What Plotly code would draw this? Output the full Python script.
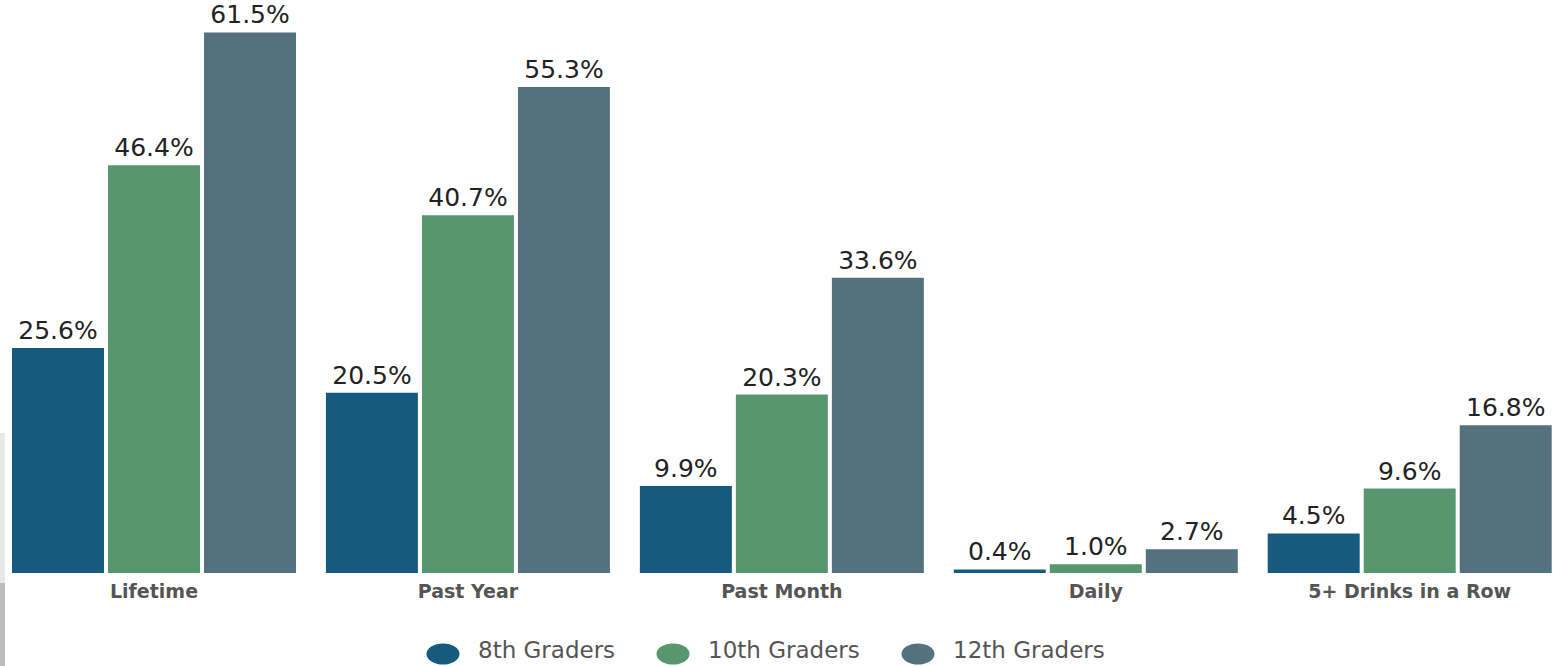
import plotly.graph_objects as go

categories = ["Lifetime", "Past Year", "Past Month", "Daily", "5+ Drinks in a Row"]
series_names = ["8th Graders", "10th Graders", "12th Graders"]
grade8 = [25.6, 20.5, 9.9, 0.4, 4.5]
grade10 = [46.4, 40.7, 20.3, 1.0, 9.6]
grade12 = [61.5, 55.3, 33.6, 2.7, 16.8]
colors = ["#175a80", "#589670", "#547180"]

W, H = 1558, 666
BASE = 573  # pixel row of the baseline

fig = go.Figure()
for name, vals, col in zip(series_names, [grade8, grade10, grade12], colors):
    fig.add_trace(go.Bar(
        x=categories, y=vals, name=name,
        marker=dict(color=col, line=dict(width=0)),
        text=[f"{v:.1f}%" for v in vals],
        textposition="outside",
        textfont=dict(family="DejaVu Sans", size=25, color="#222222"),
        cliponaxis=False,
        showlegend=False,
    ))

# manual legend (ellipse markers + text)
legend_circles = [443, 673, 918]
legend_text_x = [477, 707, 952]
circ_y_px = 654
text_y_px = 650
circ_y = (BASE - circ_y_px) / BASE
text_y = (BASE - text_y_px) / BASE
shapes = []
annotations = []
for name, col, cx, tx in zip(series_names, colors, legend_circles, legend_text_x):
    shapes.append(dict(type="circle", xref="paper", yref="paper",
                       xsizemode="pixel", ysizemode="pixel",
                       xanchor=cx / W, yanchor=circ_y,
                       x0=-16.5, x1=16.5, y0=-10.5, y1=10.5,
                       fillcolor=col, line=dict(width=0)))
    annotations.append(dict(text=name, xref="paper", yref="paper",
                            x=tx / W, y=text_y, xanchor="left", yanchor="middle",
                            showarrow=False, borderpad=0,
                            font=dict(family="DejaVu Sans", size=23, color="#555555")))

# grey strip at the left edge of the screenshot
shapes.append(dict(type="rect", xref="paper", yref="paper", layer="below",
                   x0=0, x1=5 / W, y0=(BASE - 583) / BASE, y1=(BASE - 433) / BASE,
                   fillcolor="#e8e8e8", line=dict(width=0)))
shapes.append(dict(type="rect", xref="paper", yref="paper", layer="below",
                   x0=0, x1=5 / W, y0=(BASE - 666) / BASE, y1=(BASE - 583) / BASE,
                   fillcolor="#bdbbbe", line=dict(width=0)))

fig.update_layout(
    width=W, height=H,
    margin=dict(l=0, r=0, t=0, b=H - BASE, pad=0),
    paper_bgcolor="white", plot_bgcolor="white",
    barmode="group", bargap=0.0825, bargroupgap=0.042,
    showlegend=False,
    shapes=shapes, annotations=annotations,
    xaxis=dict(range=[-0.4906, 4.4724], showgrid=False, zeroline=False,
               showline=False, ticks="", ticklabelstandoff=5,
               tickfont=dict(family="DejaVu Sans", size=19, color="#555555", weight="bold")),
    yaxis=dict(range=[0, BASE / 8.79], visible=False, showgrid=False, zeroline=False),
)

fig.write_html("out.html")
